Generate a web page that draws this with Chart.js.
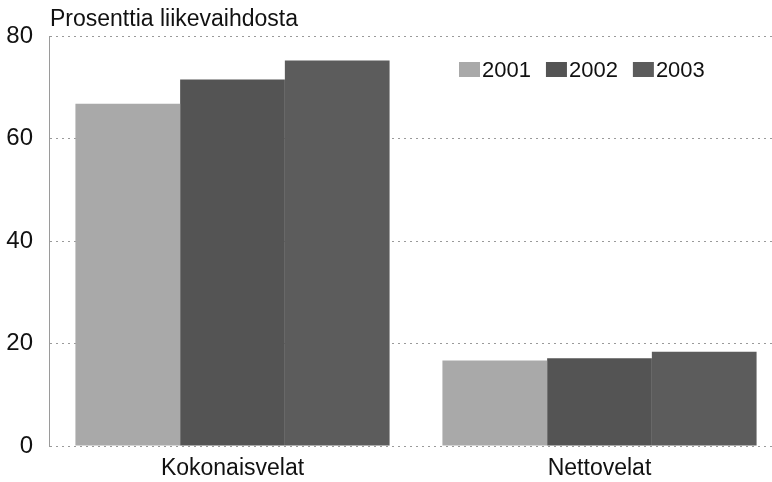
<!DOCTYPE html>
<html>
<head>
<meta charset="utf-8">
<script src="https://cdn.jsdelivr.net/npm/chart.js@4/dist/chart.umd.min.js"></script>
<style>
  html, body { margin: 0; padding: 0; background: #fff; overflow: hidden; }
  #wrap { width: 772px; height: 482px; overflow: hidden; }
</style>
</head>
<body>
<div id="wrap"><canvas id="c" width="784" height="482"></canvas></div>
<script>
const categories = ['Kokonaisvelat', 'Nettovelat'];
const years = ['2001', '2002', '2003'];
const values2001 = [66.8, 16.7];
const values2002 = [71.5, 17.1];
const values2003 = [75.2, 18.4];
const yTicks = [0, 20, 40, 60, 80];
const titleText = 'Prosenttia liikevaihdosta';

const COLORS = ['#a9a9a9', '#545454', '#5c5c5c'];
const FONT = "'Liberation Sans', Arial, sans-serif";

// title + legend drawn by hand so they sit where the original has them
const overlay = {
  id: 'overlay',
  afterDraw(chart) {
    const { ctx, chartArea } = chart;
    ctx.save();
    ctx.fillStyle = '#111';
    ctx.font = '23px ' + FONT;
    ctx.textBaseline = 'alphabetic';
    ctx.textAlign = 'left';
    ctx.fillText(titleText, chartArea.left + 1, 26);

    ctx.font = '22px ' + FONT;
    ctx.textBaseline = 'middle';
    let x = 459;
    chart.data.datasets.forEach((ds, i) => {
      ctx.fillStyle = ds.backgroundColor;
      ctx.fillRect(x, 62, 21, 15);
      ctx.fillStyle = '#111';
      ctx.fillText(ds.label, x + 23, 71);
      x += 23 + ctx.measureText(ds.label).width + 15;
    });
    ctx.restore();
  }
};

new Chart(document.getElementById('c'), {
  type: 'bar',
  data: {
    labels: categories,
    datasets: [
      { label: years[0], data: values2001, backgroundColor: COLORS[0] },
      { label: years[1], data: values2002, backgroundColor: COLORS[1] },
      { label: years[2], data: values2003, backgroundColor: COLORS[2] },
    ],
  },
  options: {
    responsive: false,
    animation: false,
    layout: { padding: { top: 36, right: 1, bottom: 0, left: 0 } },
    barPercentage: 1,
    categoryPercentage: 0.856,
    plugins: {
      legend: { display: false },
      title: { display: false },
      tooltip: { enabled: false },
    },
    scales: {
      x: {
        grid: { display: false, drawTicks: false },
        border: { display: false },
        ticks: { color: '#111', font: { family: FONT, size: 23 }, padding: 9 },
        afterFit(scale) { scale.height = 36; },
      },
      y: {
        min: 0,
        max: 80,
        afterBuildTicks(scale) { scale.ticks = yTicks.map(v => ({ value: v })); },
        grid: { color: '#9a9a9a', drawTicks: false, lineWidth: 1 },
        border: { display: true, color: '#9a9a9a', dash: [2, 4] },
        ticks: { color: '#111', font: { family: FONT, size: 24 }, padding: 16 },
        afterFit(scale) { scale.width = 49; },
      },
    },
  },
  plugins: [overlay],
});
</script>
</body>
</html>
